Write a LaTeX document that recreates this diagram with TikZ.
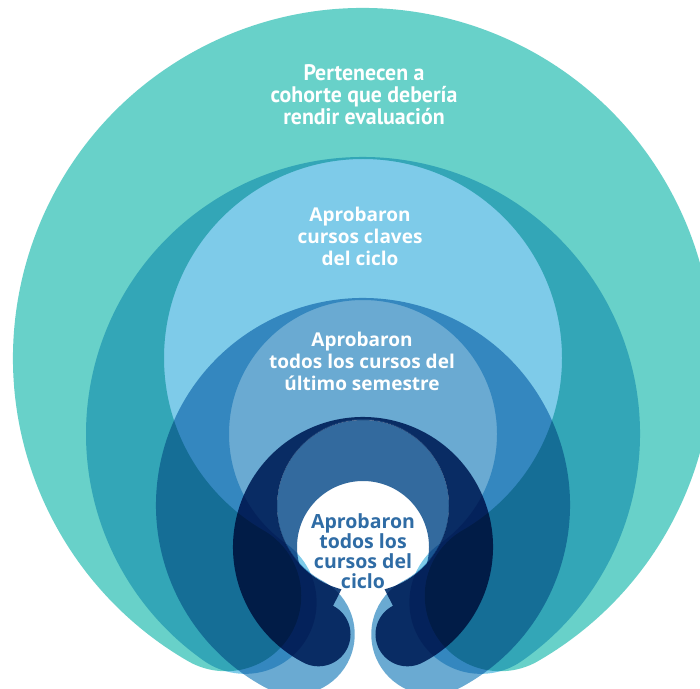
\documentclass[tikz,border=0pt]{standalone}
\usepackage{fontspec}
\setmainfont{Open Sans}
\newfontfamily\condfont[FakeStretch=0.97]{PT Sans}
\definecolor{cA}{RGB}{104,209,201}
\definecolor{cB}{RGB}{126,203,233}
\definecolor{cC}{RGB}{106,170,210}
\definecolor{cD}{RGB}{51,106,158}
\definecolor{cDdark}{RGB}{24,66,122}
\definecolor{txtblue}{RGB}{47,108,165}
% #1 centre y, #2 outer radius, #3 inner radius (for the caps), #4 half opening angle,
% #5 colour, #6 hole centre y, #7 hole radius
\newcommand\ringlevel[7]{%
  \begin{scope}[blend mode=multiply]
    \clip (-20,-20) -- (720,-20) -- (720,708) -- (-20,708) -- cycle
          (363+#7,#6) arc[start angle=0, end angle=-360, radius=#7];
    \fill[#5] (363,#1) -- ++(270+#4:#2)
          arc[start angle=270+#4, end angle=630-#4, radius=#2] -- cycle
          (363,#1) ++(270+#4:{(#2+#3)/2}) circle[radius={(#2-#3)/2}]
          (363,#1) ++(270-#4:{(#2+#3)/2}) circle[radius={(#2-#3)/2}];
  \end{scope}}
\tikzset{
  lbl/.style={align=center, text=white, font=\bfseries\fontsize{19}{22}\selectfont},
  toplbl/.style={align=center, text=white, font=\condfont\bfseries\fontsize{22.5}{22}\selectfont},
  inlbl/.style={align=center, text=txtblue, font=\bfseries\fontsize{19.5}{20}\selectfont}
}
\begin{document}
\begin{tikzpicture}[x=1pt,y=1pt]
\useasboundingbox (0,0) rectangle (700,688);
\fill[white] (0,0) rectangle (700,688);
\ringlevel{330}{350}{199}{30}{cA}{330}{199}
\ringlevel{254}{277}{134}{35}{cB}{254}{134}
\ringlevel{183}{207}{86}{28}{cC}{183}{86}
% level 4: darker outside the disc, lighter inside it
\ringlevel{141}{130}{66}{27}{cDdark}{182}{86}
\begin{scope}[blend mode=multiply]
  \clip (-20,-20) -- (720,-20) -- (720,708) -- (-20,708) -- cycle
        (363+66,141) arc[start angle=0, end angle=-360, radius=66];
  \fill[cD] (363,182) circle[radius=86];
\end{scope}
\node[toplbl] (t1) at (364,593) {Pertenecen a\\cohorte que debería\\rendir evaluación};
\node[lbl] (t2) at (360,452) {Aprobaron\\cursos claves\\del ciclo};
\node[lbl] (t3) at (362,327) {Aprobaron\\todos los cursos del\\último semestre};
\node[inlbl] (t4) at (363,137) {Aprobaron\\todos los\\cursos del\\ciclo};
\end{tikzpicture}
\end{document}
